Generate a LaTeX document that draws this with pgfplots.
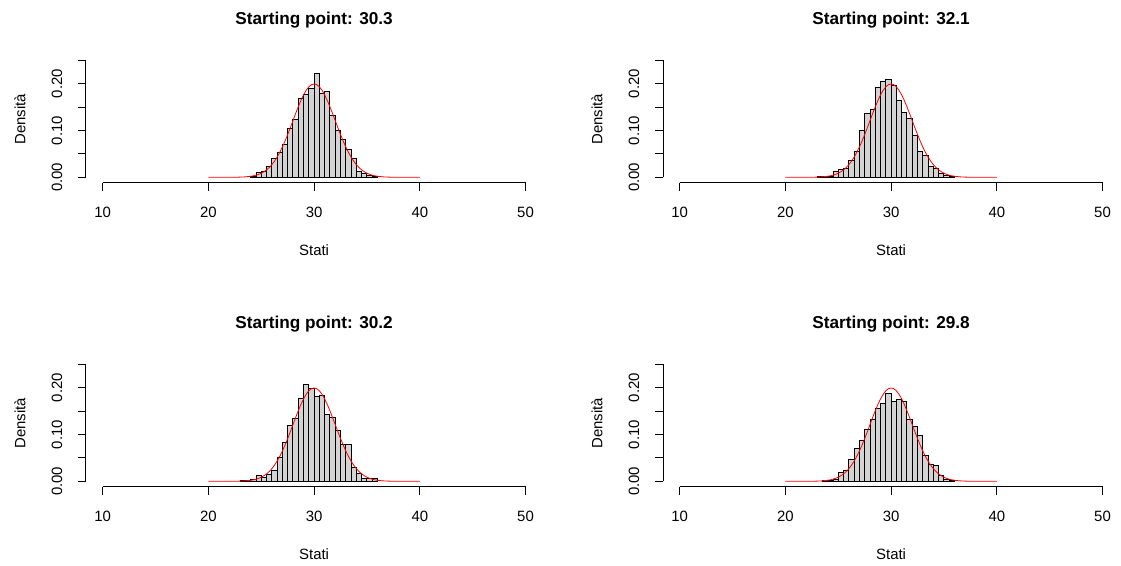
\documentclass[border=0pt]{standalone}
\usepackage{fontspec}
\setmainfont{Liberation Sans}
\usepackage{pgfplots}
\usepackage{pgfplotstable}
\pgfplotsset{compat=1.18}
\definecolor{rgray}{HTML}{D3D3D3}

\pgfplotstableread{
x y
24.0 0.002
24.5 0.010
25.0 0.0135
25.5 0.024
26.0 0.041
26.5 0.053
27.0 0.0705
27.5 0.105
28.0 0.124
28.5 0.168
29.0 0.176
29.5 0.189
30.0 0.222
30.5 0.179
31.0 0.183
31.5 0.133
32.0 0.100
32.5 0.081
33.0 0.060
33.5 0.040
34.0 0.0135
34.5 0.009
35.0 0.0035
35.5 0.002
36.0 0
}\histA

\pgfplotstableread{
x y
23.0 0.0015
23.5 0.0015
24.0 0.002
24.5 0.0135
25.0 0.0157
25.5 0.019
26.0 0.035
26.5 0.055
27.0 0.100
27.5 0.137
28.0 0.146
28.5 0.192
29.0 0.205
29.5 0.208
30.0 0.197
30.5 0.165
31.0 0.139
31.5 0.126
32.0 0.090
32.5 0.056
33.0 0.047
33.5 0.023
34.0 0.018
34.5 0.0085
35.0 0.004
35.5 0.002
36.0 0
}\histB

\pgfplotstableread{
x y
23.0 0.0015
23.5 0.0025
24.0 0.003
24.5 0.012
25.0 0.0085
25.5 0.0157
26.0 0.0235
26.5 0.051
27.0 0.082
27.5 0.120
28.0 0.135
28.5 0.178
29.0 0.207
29.5 0.199
30.0 0.182
30.5 0.184
31.0 0.142
31.5 0.137
32.0 0.109
32.5 0.078
33.0 0.078
33.5 0.030
34.0 0.017
34.5 0.007
35.0 0.006
35.5 0.006
36.0 0
}\histC

\pgfplotstableread{
x y
23.5 0.002
24.0 0.002
24.5 0.005
25.0 0.019
25.5 0.024
26.0 0.047
26.5 0.070
27.0 0.087
27.5 0.111
28.0 0.132
28.5 0.156
29.0 0.167
29.5 0.188
30.0 0.171
30.5 0.175
31.0 0.170
31.5 0.132
32.0 0.117
32.5 0.097
33.0 0.055
33.5 0.036
34.0 0.034
34.5 0.012
35.0 0.0035
35.5 0.0015
36.0 0
}\histD

\pgfplotstableread{
x y
20.0 0.00000
21.0 0.00001
22.0 0.00007
22.5 0.00018
23.0 0.00044
23.5 0.00101
24.0 0.00222
24.25 0.00320
24.5 0.00455
24.75 0.00636
25.0 0.00876
25.25 0.01188
25.5 0.01587
25.75 0.02086
26.0 0.02700
26.25 0.03439
26.5 0.04314
26.75 0.05327
27.0 0.06476
27.25 0.07751
27.5 0.09132
27.75 0.10594
28.0 0.12099
28.25 0.13603
28.5 0.15057
28.75 0.16408
29.0 0.17603
29.25 0.18593
29.5 0.19333
29.75 0.19792
30.0 0.19947
30.25 0.19792
30.5 0.19333
30.75 0.18593
31.0 0.17603
31.25 0.16408
31.5 0.15057
31.75 0.13603
32.0 0.12099
32.25 0.10594
32.5 0.09132
32.75 0.07751
33.0 0.06476
33.25 0.05327
33.5 0.04314
33.75 0.03439
34.0 0.02700
34.25 0.02086
34.5 0.01587
34.75 0.01188
35.0 0.00876
35.25 0.00636
35.5 0.00455
35.75 0.00320
36.0 0.00222
36.5 0.00101
37.0 0.00044
37.5 0.00018
38.0 0.00007
39.0 0.00001
40.0 0.00000
}\curve

\pgfplotsset{
  rhist/.style={
    scale only axis, width=342.15pt, height=95.325pt,
    xmin=8.42, xmax=51.58, ymin=-0.0115, ymax=0.26,
    clip=false,
    axis x line*=bottom, axis y line*=left,
    axis line style={draw=none},
    tick align=outside, major tick length=6pt,
    tick style={black, line width=0.75pt},
    xtick={10,20,30,40,50}, xticklabels={10,20,30,40,50},
    ytick={0,0.05,0.10,0.15,0.20,0.25}, yticklabels={0.00,,0.10,,0.20,},
    minor tick num=0,
    xticklabel style={anchor=base, yshift=-19.75pt, inner sep=0pt},
    yticklabel style={rotate=90, anchor=base, inner sep=0pt},
    yticklabel shift=12pt,
    xlabel={Stati}, ylabel={Densità},
    every axis x label/.style={at={(axis description cs:0.5,-0.5717)}, anchor=base},
    every axis y label/.style={at={(axis description cs:-0.133,0.5)}, rotate=90, anchor=base},
    every axis title/.style={at={(axis description cs:0.5,1.2455)}, anchor=base, font=\fontsize{12.9}{15.5}\selectfont\bfseries},
    anchor=south west,
  },
  hbar/.style={ybar interval, fill=rgray, draw=black, line width=0.7pt},
  dens/.style={red, line width=0.6pt, no markers},
}

\newcommand{\raxes}{%
  \draw[black, line width=0.75pt] (axis cs:10,-0.0115) -- (axis cs:50,-0.0115);
  \draw[black, line width=0.75pt] (axis cs:8.42,0) -- (axis cs:8.42,0.25);
}

\begin{document}
\begin{tikzpicture}[font=\fontsize{11.2}{13.4}\selectfont]
\path[use as bounding box] (0,0) rectangle (840.75pt,423.75pt);

\begin{axis}[rhist, at={(64.5pt,286.725pt)}, title={Starting point: 30.3}]
\addplot[hbar] table {\histA};
\addplot[dens] table {\curve};
\raxes
\end{axis}

\begin{axis}[rhist, at={(497.25pt,286.725pt)}, title={Starting point: 32.1}]
\addplot[hbar] table {\histB};
\addplot[dens] table {\curve};
\raxes
\end{axis}

\begin{axis}[rhist, at={(64.5pt,58.725pt)}, title={Starting point: 30.2}]
\addplot[hbar] table {\histC};
\addplot[dens] table {\curve};
\raxes
\end{axis}

\begin{axis}[rhist, at={(497.25pt,58.725pt)}, title={Starting point: 29.8}]
\addplot[hbar] table {\histD};
\addplot[dens] table {\curve};
\raxes
\end{axis}
\end{tikzpicture}
\end{document}
